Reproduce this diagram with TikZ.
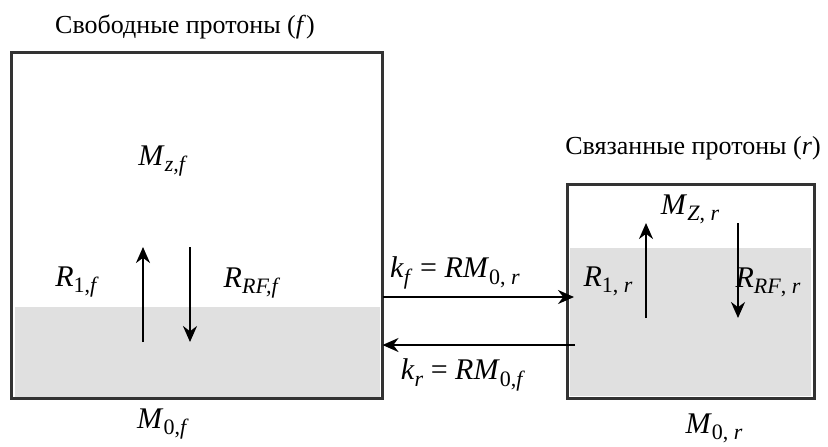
\documentclass[tikz,border=0pt]{standalone}
\usepackage{fontspec}
\setmainfont{Liberation Serif}
\usetikzlibrary{arrows.meta}
\definecolor{boxgray}{HTML}{333333}
\definecolor{fillgray}{HTML}{E0E0E0}
\newcommand{\lsub}[1]{\raisebox{-0.45ex}{\fontsize{11}{13}\selectfont #1}}
\begin{document}
\begin{tikzpicture}[x=0.5pt,y=-0.5pt,
  box/.style={draw=boxgray, line width=1.5pt, inner sep=0pt, outer sep=0pt, anchor=north west},
  arr/.style={line width=1.1pt, -{Stealth[length=8pt,width=7pt]}},
  ttl/.style={font=\fontsize{13}{16}\selectfont, inner sep=1pt},
  lbl/.style={font=\fontsize{15}{18}\selectfont, inner sep=1pt}]
\useasboundingbox (0,0) rectangle (828,446);
% shaded parts
\fill[fillgray] (15,307) rectangle (380,397);
\fill[fillgray] (570,248) rectangle (811,396);
% boxes
\node[box, minimum width=185.5pt, minimum height=173pt] (lb) at (11.5,52) {};
\node[box, minimum width=123.5pt, minimum height=107pt] (rb) at (567,184) {};
% titles
\node[ttl] (tf) at (185,27) {Свободные протоны (\textit{f})};
\node[ttl] (tr) at (693,148) {Связанные протоны (\textit{r})};
% left box labels
\node[lbl] (mzf) at (163,161) {\textit{M}\lsub{\textit{z,f}}};
\node[lbl] (r1f) at (77,282) {\textit{R}\lsub{1,\textit{f}}};
\node[lbl] (rrff) at (252,283) {\textit{R}\lsub{\textit{RF,f}}};
\node[lbl] (m0f) at (163,424) {\textit{M}\lsub{0,\textit{f}}};
% right box labels
\node[lbl] (mzr) at (690,209) {\textit{M}\lsub{\textit{Z}, \textit{r}}};
\node[lbl] (r1r) at (608,281) {\textit{R}\lsub{1, \textit{r}}};
\node[lbl] (rrfr) at (768,282) {\textit{R}\lsub{\textit{RF}, \textit{r}}};
\node[lbl] (m0r) at (714,428) {\textit{M}\lsub{0, \textit{r}}};
% exchange labels
\node[lbl] (kf) at (455,273) {\textit{k}\lsub{\textit{f}} = \textit{RM}\lsub{0, \textit{r}}};
\node[lbl] (kr) at (463,375) {\textit{k}\lsub{\textit{r}} = \textit{RM}\lsub{0,\textit{f}}};
% coordinates for arrows
\coordinate (ytop) at (0,297);
\coordinate (ybot) at (0,345);
\coordinate (lu1) at (143,342); \coordinate (lu2) at (143,247);
\coordinate (ld1) at (190,247); \coordinate (ld2) at (190,342);
\coordinate (ru1) at (646,318); \coordinate (ru2) at (646,223);
\coordinate (rd1) at (738,223); \coordinate (rd2) at (738,318);
% exchange arrows
\draw[arr] (lb.east |- ytop) -- ([xshift=3.5pt]rb.west |- ytop);
\draw[arr] ([xshift=4pt]rb.west |- ybot) -- (lb.east |- ybot);
% relaxation arrows
\draw[arr] (lu1) -- (lu2);
\draw[arr] (ld1) -- (ld2);
\draw[arr] (ru1) -- (ru2);
\draw[arr] (rd1) -- (rd2);
\end{tikzpicture}
\end{document}
